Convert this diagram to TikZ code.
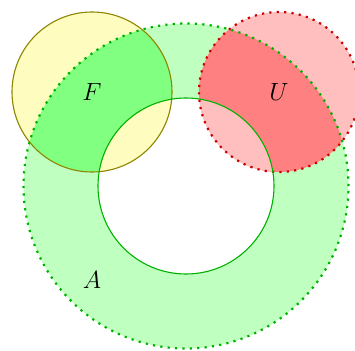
\documentclass[tikz,border=0pt]{standalone}
\usetikzlibrary{positioning}
\begin{document}
\begin{tikzpicture}[x=1pt,y=-1pt]
\tikzstyle{every node}+=[inner sep=0pt, font=\fontsize{24}{28}\selectfont]
\tikzstyle{dotline}=[line width=2.2pt, dash pattern=on 2.2pt off 5.2pt]
\useasboundingbox (0,0) rectangle (355,350);
\coordinate (cA) at (186,186);
\coordinate (cF) at (92,92);
\coordinate (cU) at (279,92);
\fill [green!25, even odd rule] (cA) circle (162.5pt) (cA) circle (88pt);
\fill [yellow!25] (cF) circle (80pt);
\fill [red!25] (cU) circle (80pt);
\begin{scope}
\clip (cA) circle (162.5pt);
\fill [green!50] (cF) circle (80pt);
\fill [red!50] (cU) circle (80pt);
\end{scope}
\begin{scope}
\clip (cA) circle (88pt);
\fill [yellow!25] (cF) circle (80pt);
\fill [red!25] (cU) circle (80pt);
\end{scope}
\draw [green!70!black, dotline] (cA) circle (162.5pt);
\draw [olive, line width=1.1pt] (cF) circle (80pt);
\draw [red!80!black, dotline] (cU) circle (80pt);
\draw [green!70!black, line width=1.1pt] (cA) circle (88pt);
\node (F) at (cF) {$F$};
\node (U) at (cU) {$U$};
\node (A) at (92,280) {$A$};
\end{tikzpicture}
\end{document}
